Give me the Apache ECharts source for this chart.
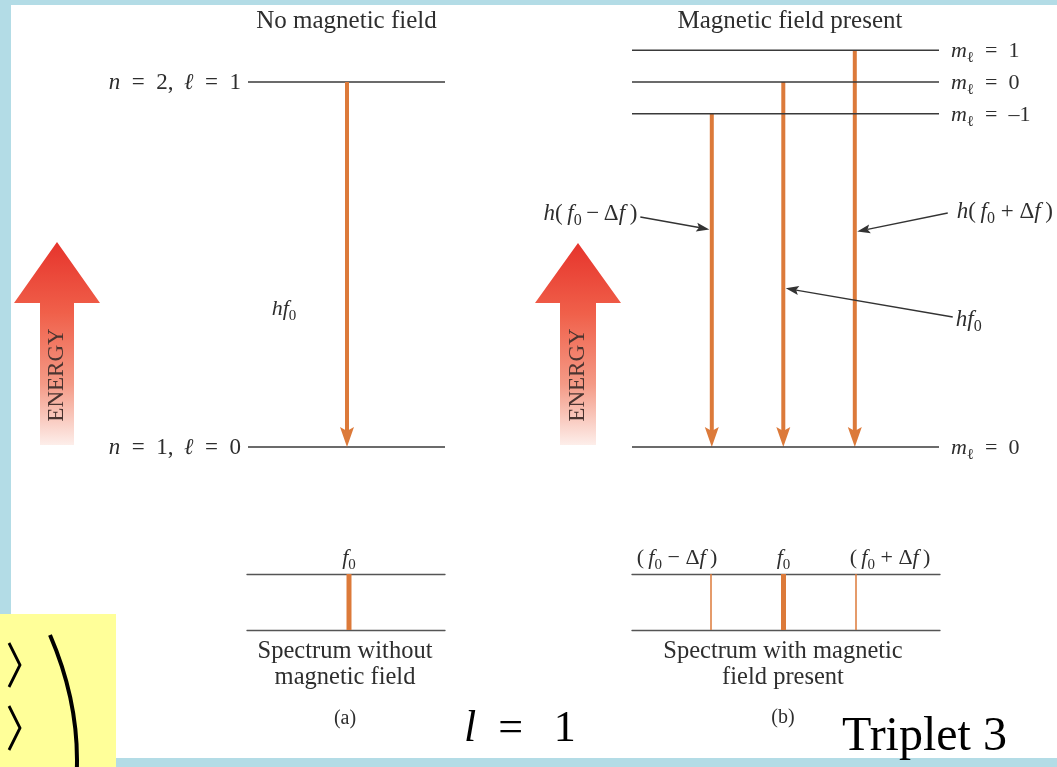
<!DOCTYPE html>
<html>
<head>
<meta charset="utf-8">
<title>Normal Zeeman effect</title>
<script src="https://cdn.jsdelivr.net/npm/echarts@6/dist/echarts.min.js"></script>
<style>
  html, body { margin: 0; padding: 0; background: #b3dce6; }
  #chart { width: 1057px; height: 767px; }
</style>
</head>
<body>
<div id="chart"></div>
<script>
// ---- data ----
const groundEnergy = 0
const excitedEnergy = 10
const zeemanShift = 0.87 // energy step per unit of m_l
const mlValues = [-1, 0, 1]
const mlText = ['–1', '0', '1']
const leftLevelEnergies = [groundEnergy, excitedEnergy]
const leftLevelText = [
  '{i|n}\u2002=\u20021,\u2009 {i|ℓ}\u2002=\u20020',
  '{i|n}\u2002=\u20022,\u2009 {i|ℓ}\u2002=\u20021'
]
const spectrumText = ['(\u2009{i|f}{s|0} − Δ{i|f}\u2009)', '{i|f}{s|0}', '(\u2009{i|f}{s|0} + Δ{i|f}\u2009)']
const photonText = ['{i|h}(\u2009{i|f}{s|0}\u2009−\u2009Δ{i|f}\u2009)', '{i|hf}{s|0}', '{i|h}(\u2009{i|f}{s|0} + Δ{i|f}\u2009)']

const rightLevelEnergies = [groundEnergy].concat(mlValues.map((m) => excitedEnergy + m * zeemanShift))
const rightLevelText = ['0'].concat(mlText).map((t) => `{i|m}{s|ℓ}\u2002=\u2002${t}`)

// ---- look ----
const ink = '#2e2e2e'
const orange = '#dc7a3a'
const serif = '"Liberation Serif", "DejaVu Serif", serif'

// where the pointer labels sit (picture layout, in right-grid units)
const pointerLayout = [
  { start: [-2.0, 6.3], at: 5.95, align: 'right', dx: -3, dy: -3 },
  { start: [2.37, 3.56], at: 4.36, align: 'left', dx: 3, dy: 3 },
  { start: [2.3, 6.41], at: 5.89, align: 'left', dx: 9, dy: -1 }
]

const rich = (size) => ({
  i: { fontFamily: serif, fontStyle: 'italic', fontSize: size, fill: ink, lineHeight: Math.round(size * 1.3) },
  s: { fontFamily: serif, fontSize: Math.round(size * 0.7), fill: ink, lineHeight: Math.round(size * 0.75), verticalAlign: 'bottom' }
})

const textEl = (x, y, text, size, align, extra) => ({
  type: 'text',
  x,
  y,
  style: Object.assign({
    text,
    rich: rich(size),
    fontFamily: serif,
    fontSize: size,
    lineHeight: Math.round(size * 1.3),
    fill: ink,
    align,
    verticalAlign: 'middle'
  }, extra || {})
})

// arrow head points: tip, back corner, notch, back corner
const arrowHead = (tip, from, len, half, notch) => {
  const dx = tip[0] - from[0]
  const dy = tip[1] - from[1]
  const d = Math.hypot(dx, dy)
  const ux = dx / d
  const uy = dy / d
  const bx = tip[0] - ux * len
  const by = tip[1] - uy * len
  return [
    tip,
    [bx - uy * half, by + ux * half],
    [tip[0] - ux * (len - notch), tip[1] - uy * (len - notch)],
    [bx + uy * half, by - ux * half]
  ]
}

const levelRenderer = (labels, side, size) => (params, api) => {
  const y = api.coord([0, api.value(1)])[1]
  const cs = params.coordSys
  const lx = side === 'left' ? cs.x - 7 : cs.x + cs.width + 12
  return {
    type: 'group',
    children: [
      { type: 'line', shape: { x1: cs.x, y1: y, x2: cs.x + cs.width, y2: y }, style: { stroke: '#3a3a3a', lineWidth: 1.3 } },
      textEl(lx, y + 1, labels[params.dataIndex], size, side === 'left' ? 'right' : 'left')
    ]
  }
}

const renderTransition = (params, api) => {
  const top = api.coord([api.value(0), api.value(1)])
  const tip = api.coord([api.value(0), api.value(2)])
  const head = arrowHead(tip, top, 20, 7, 4)
  return {
    type: 'group',
    children: [
      { type: 'line', shape: { x1: top[0], y1: top[1], x2: head[2][0], y2: head[2][1] }, style: { stroke: orange, lineWidth: 4 } },
      { type: 'polygon', shape: { points: head }, style: { fill: orange } }
    ]
  }
}

const spectrumRenderer = (labels) => (params, api) => {
  const m = api.value(0)
  const lo = api.coord([m, 0])
  const hi = api.coord([m, 1])
  return {
    type: 'group',
    children: [
      { type: 'line', shape: { x1: lo[0], y1: lo[1], x2: hi[0], y2: hi[1] }, style: { stroke: orange, lineWidth: m === 0 ? 5 : 1.5 } },
      textEl(hi[0] + m * 34, hi[1] - 16, labels[params.dataIndex], 22, 'center')
    ]
  }
}

const renderPointer = (params, api) => {
  const lay = pointerLayout[params.dataIndex]
  const start = api.coord(lay.start)
  const target = api.coord([api.value(0), api.value(1)])
  const dx = target[0] - start[0]
  const dy = target[1] - start[1]
  const d = Math.hypot(dx, dy)
  const tip = [target[0] - dx / d * 2.5, target[1] - dy / d * 2.5]
  const head = arrowHead(tip, start, 13, 4.5, 2.5)
  return {
    type: 'group',
    children: [
      { type: 'line', shape: { x1: start[0], y1: start[1], x2: head[2][0], y2: head[2][1] }, style: { stroke: '#333', lineWidth: 1.4 } },
      { type: 'polygon', shape: { points: head }, style: { fill: '#333' } },
      textEl(start[0] + lay.dx, start[1] + lay.dy, photonText[params.dataIndex], 23, lay.align)
    ]
  }
}

const spectrumAxis = (gi, min, max, position) => ({
  gridIndex: gi,
  type: 'value',
  min,
  max,
  position,
  axisLine: { show: true, onZero: false, lineStyle: { color: '#555', width: 1.3 } },
  axisTick: { show: false },
  axisLabel: { show: false },
  splitLine: { show: false }
})

const energyGradient = () => new echarts.graphic.LinearGradient(0, 0, 0, 1, [
  { offset: 0, color: '#e6342c' },
  { offset: 0.35, color: '#f0604a' },
  { offset: 0.7, color: '#f49a86' },
  { offset: 1, color: '#fdeeea' }
])

const energyArrow = (cx, headHalf, shaftHalf, tipY, baseY, bottomY) => ({
  type: 'polygon',
  shape: {
    points: [
      [cx, tipY], [cx + headHalf, baseY], [cx + shaftHalf, baseY], [cx + shaftHalf, bottomY],
      [cx - shaftHalf, bottomY], [cx - shaftHalf, baseY], [cx - headHalf, baseY]
    ]
  },
  style: { fill: energyGradient() }
})

const energyLabel = (x) => Object.assign(textEl(x, 375, 'ENERGY', 23, 'center', { fill: '#4a3430' }), { rotation: Math.PI / 2 })

const option = {
  backgroundColor: '#b3dce6',
  animation: false,
  grid: [
    { left: 248, top: 45.5, width: 197, height: 438 },
    { left: 632, top: 45.5, width: 307, height: 438 },
    { left: 247, top: 574, width: 198, height: 56 },
    { left: 632, top: 574, width: 308, height: 56 }
  ],
  xAxis: [
    { gridIndex: 0, type: 'value', min: (248 - 347) / 71.5, max: (445 - 347) / 71.5, show: false },
    { gridIndex: 1, type: 'value', min: (632 - 783.3) / 71.5, max: (939 - 783.3) / 71.5, show: false },
    spectrumAxis(2, (247 - 349) / 72.5, (445 - 349) / 72.5, 'bottom'),
    spectrumAxis(2, (247 - 349) / 72.5, (445 - 349) / 72.5, 'top'),
    spectrumAxis(3, (632 - 783.5) / 72.5, (940 - 783.5) / 72.5, 'bottom'),
    spectrumAxis(3, (632 - 783.5) / 72.5, (940 - 783.5) / 72.5, 'top')
  ],
  yAxis: [
    { gridIndex: 0, type: 'value', min: -1, max: 11, show: false },
    { gridIndex: 1, type: 'value', min: -1, max: 11, show: false },
    { gridIndex: 2, type: 'value', min: 0, max: 1, show: false },
    { gridIndex: 3, type: 'value', min: 0, max: 1, show: false }
  ],
  graphic: [
    { type: 'rect', shape: { x: 11, y: 5, width: 1046, height: 753 }, style: { fill: '#fff' } },
    { type: 'rect', shape: { x: 0, y: 614, width: 116, height: 153 }, style: { fill: '#ffff99' } },
    { type: 'polyline', shape: { points: [[9, 643], [20, 665], [9, 687]] }, style: { stroke: '#000', lineWidth: 2.8, fill: null } },
    { type: 'polyline', shape: { points: [[9, 706], [20, 728], [9, 750]] }, style: { stroke: '#000', lineWidth: 2.8, fill: null } },
    { type: 'bezierCurve', shape: { x1: 50, y1: 635, cpx1: 104, cpy1: 760, x2: 50, y2: 885 }, style: { stroke: '#000', lineWidth: 4, fill: null } },
    energyArrow(57, 43, 17, 242, 303, 445),
    energyArrow(578, 43, 18, 243, 303, 445),
    energyLabel(57),
    energyLabel(578),
    textEl(346.5, 21.5, 'No magnetic field', 25, 'center'),
    textEl(790, 21.5, 'Magnetic field present', 25, 'center'),
    textEl(284, 309, '{i|hf}{s|0}', 22, 'center'),
    textEl(345, 665, 'Spectrum without\nmagnetic field', 24.5, 'center', { lineHeight: 26 }),
    textEl(783, 665, 'Spectrum with magnetic\nfield present', 24.5, 'center', { lineHeight: 26 }),
    textEl(345, 719, '(a)', 20, 'center'),
    textEl(783, 718, '(b)', 20, 'center'),
    textEl(464, 729, '{l|l}\u2002=\u2002\u20091', 44, 'left', {
      fill: '#000',
      rich: { l: { fontFamily: serif, fontStyle: 'italic', fontSize: 44, fill: '#000' } }
    }),
    textEl(842, 737, 'Triplet 3', 48, 'left', { fill: '#000' })
  ],
  series: [
    {
      type: 'custom', name: 'levels (no field)', xAxisIndex: 0, yAxisIndex: 0,
      data: leftLevelEnergies.map((e) => [0, e]),
      renderItem: levelRenderer(leftLevelText, 'left', 23)
    },
    {
      type: 'custom', name: 'levels (field)', xAxisIndex: 1, yAxisIndex: 1,
      data: rightLevelEnergies.map((e) => [0, e]),
      renderItem: levelRenderer(rightLevelText, 'right', 22)
    },
    {
      type: 'custom', name: 'transition (no field)', xAxisIndex: 0, yAxisIndex: 0, z: 3,
      data: [[0, excitedEnergy, groundEnergy]],
      renderItem: renderTransition
    },
    {
      type: 'custom', name: 'transitions (field)', xAxisIndex: 1, yAxisIndex: 1, z: 1,
      data: mlValues.map((m) => [m, excitedEnergy + m * zeemanShift, groundEnergy]),
      renderItem: renderTransition
    },
    {
      type: 'custom', name: 'photon labels', xAxisIndex: 1, yAxisIndex: 1, z: 4,
      data: mlValues.map((m, i) => [m, pointerLayout[i].at]),
      renderItem: renderPointer
    },
    {
      type: 'custom', name: 'spectrum (no field)', xAxisIndex: 2, yAxisIndex: 2,
      data: [[0]],
      renderItem: spectrumRenderer([spectrumText[1]])
    },
    {
      type: 'custom', name: 'spectrum (field)', xAxisIndex: 4, yAxisIndex: 3,
      data: mlValues.map((m) => [m]),
      renderItem: spectrumRenderer(spectrumText)
    }
  ]
}

const chart = echarts.init(document.getElementById('chart'))
chart.setOption(option)
</script>
</body>
</html>
